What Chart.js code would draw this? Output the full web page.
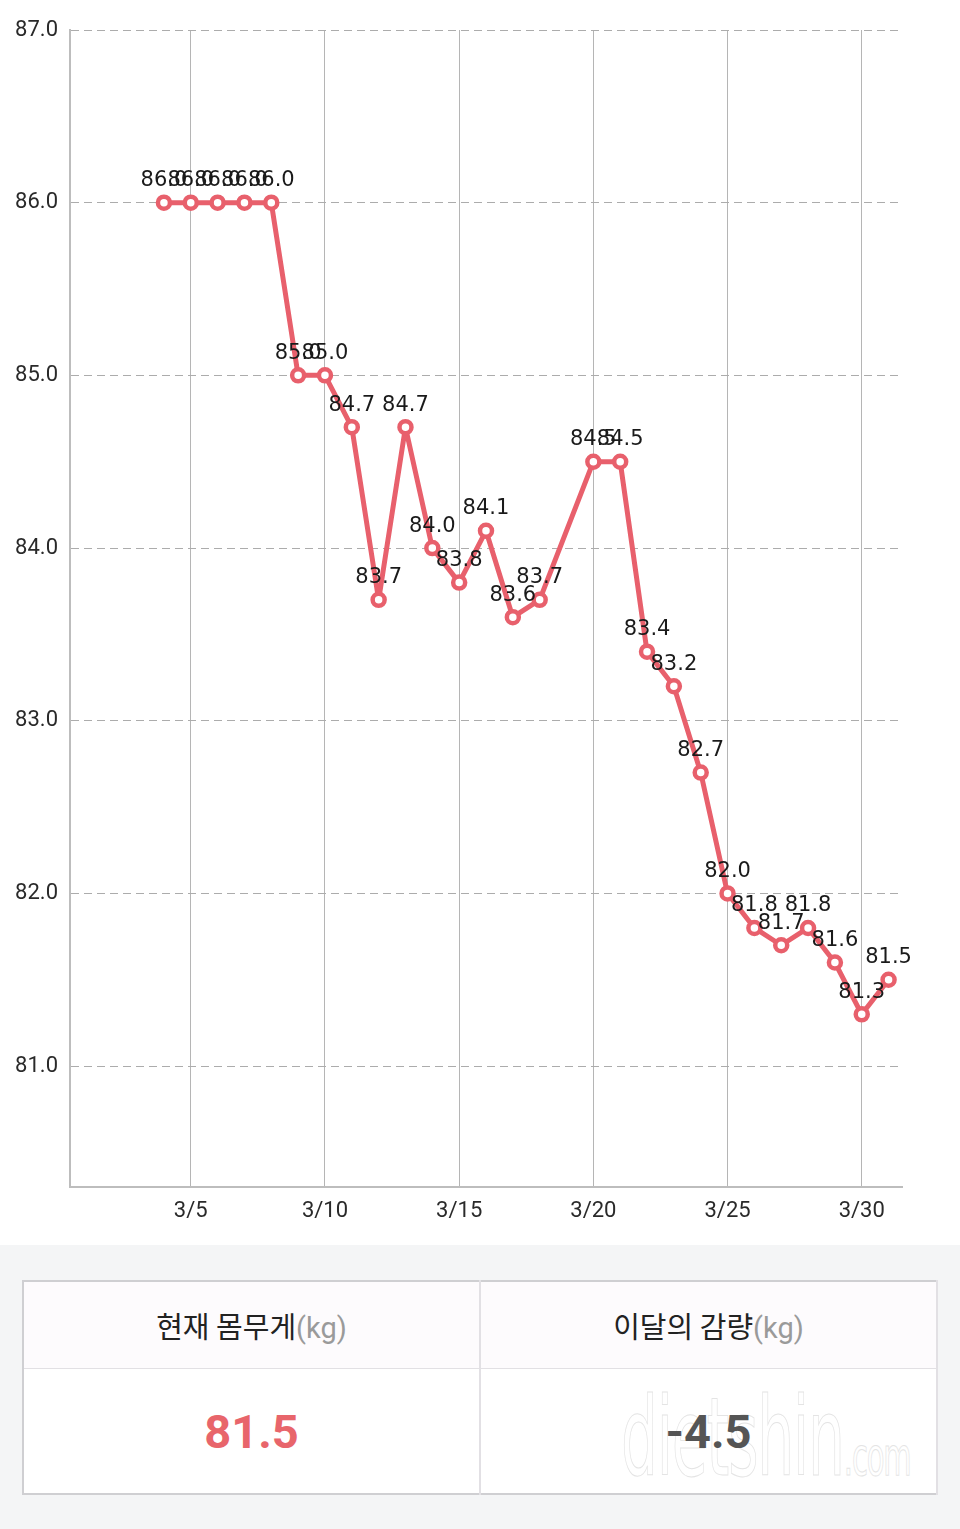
<!DOCTYPE html>
<html>
<head>
<meta charset="utf-8">
<script src="https://cdn.jsdelivr.net/npm/chart.js@4"></script>
<style>
  body { margin: 0; background: #fff; font-family: Roboto, "Noto Sans CJK KR", sans-serif; }
  #chart-wrap { position: relative; width: 960px; height: 1245px; background: #fff; }
  #summary { position: relative; width: 960px; height: 284px; background: #f4f5f6; }
  #summary table {
    position: absolute; left: 22px; top: 35px;
    width: 916px; height: 215px; border-collapse: collapse;
    border: 2px solid #cfcfd2; background: #fff;
  }
  #summary th {
    height: 84px; background: #fdfbfd; font-weight: normal; font-size: 29px; color: #222;
    border-bottom: 1px solid #e2e0e4; border-right: 2px solid #e2e0e4;
    font-family: "Noto Sans CJK KR", Roboto, sans-serif;
  }
  #summary td {
    font-size: 47px; font-weight: bold; text-align: center; border-right: 2px solid #e2e0e4;
    font-family: Roboto, sans-serif; position: relative;
  }
  .unit { color: #9a9a9a; font-family: Roboto, sans-serif; }
  .wm {
    position: absolute; left: 140px; top: 6px; font-family: "DejaVu Sans Condensed", "Liberation Sans Narrow", sans-serif;
    font-size: 108px; font-weight: normal; color: transparent; -webkit-text-stroke: 1px #e4e4e4;
    transform: scaleX(0.6); transform-origin: left top; letter-spacing: -2px; white-space: nowrap;
  }
</style>
</head>
<body>
<div id="chart-wrap"><canvas id="weight-chart"></canvas></div>
<div id="summary">
  <table>
    <tr>
      <th>현재 몸무게<span class="unit">(kg)</span></th>
      <th>이달의 감량<span class="unit">(kg)</span></th>
    </tr>
    <tr>
      <td id="current-weight" style="color:#e8656b"></td>
      <td id="month-loss" style="color:#555"><span class="wm">dietshin<span style="font-size:54px">.com</span></span><span id="loss-text" style="position:relative"></span></td>
    </tr>
  </table>
</div>
<script>
// ------------------ DATA ------------------
const days = [];
for (let d = 1; d <= 31; d++) days.push("3/" + d);

// weight per day of March (null = no record)
const weights = [
  null, null, null, 86.0, 86.0, 86.0, 86.0, 86.0, 85.0, 85.0,
  84.7, 83.7, 84.7, 84.0, 83.8, 84.1, 83.6, 83.7, null, 84.5,
  84.5, 83.4, 83.2, 82.7, 82.0, 81.8, 81.7, 81.8, 81.6, 81.3,
  81.5
];
const yTicks = [81, 82, 83, 84, 85, 86, 87];
const yMin = 80.3, yMax = 87.0;

const currentWeight = 81.5;
const monthLoss = -4.5;

const LINE = "#e8606c";

// ------------------ SUMMARY ------------------
document.getElementById("current-weight").textContent = currentWeight.toFixed(1);
document.getElementById("loss-text").textContent = monthLoss.toFixed(1);

// ------------------ CHART ------------------
const valueLabels = {
  id: "valueLabels",
  afterDatasetsDraw(chart) {
    const ctx = chart.ctx;
    const meta = chart.getDatasetMeta(0);
    ctx.save();
    ctx.font = "21px 'DejaVu Sans'";
    ctx.fillStyle = "#1a1a1a";
    ctx.textAlign = "center";
    ctx.textBaseline = "middle";
    meta.data.forEach((pt, i) => {
      const v = weights[i];
      if (v == null) return;
      ctx.fillText(v.toFixed(1), pt.x, pt.y - 22);
    });
    ctx.restore();
  }
};

const ctx = document.getElementById("weight-chart").getContext("2d");
new Chart(ctx, {
  type: "line",
  data: {
    labels: days,
    datasets: [{
      data: weights,
      borderColor: LINE,
      borderWidth: 5,
      borderJoinStyle: "round",
      borderCapStyle: "round",
      pointBackgroundColor: "#fff",
      pointBorderColor: LINE,
      pointBorderWidth: 4.5,
      pointRadius: 6,
      tension: 0,
      spanGaps: true
    }]
  },
  options: {
    responsive: true,
    maintainAspectRatio: false,
    animation: false,
    layout: { padding: { top: 30, right: 58, left: 0, bottom: 0 } },
    plugins: { legend: { display: false }, tooltip: { enabled: false } },
    scales: {
      x: {
        offset: true,
        grid: {
          offset: false,
          drawTicks: false,
          color: c => ((c.index + 1) % 5 === 0 ? "#b5b5b5" : "rgba(0,0,0,0)"),
          lineWidth: 1
        },
        border: { color: "#bdbdbd", width: 2 },
        ticks: {
          autoSkip: false,
          maxRotation: 0,
          padding: 11,
          color: "#2a2a2a",
          font: { family: "Roboto", size: 22 },
          callback: (v, i) => ((i + 1) % 5 === 0 ? days[i] : "")
        },
        afterFit: s => { s.height = 58; }
      },
      y: {
        min: yMin,
        max: yMax,
        afterBuildTicks: s => { s.ticks = yTicks.map(v => ({ value: v })); },
        grid: { color: "#acacac", drawTicks: false, lineWidth: 1 },
        border: { color: "#bdbdbd", width: 2, dash: [8, 5] },
        ticks: {
          padding: 12,
          color: "#2a2a2a",
          font: { family: "Roboto", size: 22 },
          callback: v => Number(v).toFixed(1)
        },
        afterFit: s => { s.width = 70; }
      }
    }
  },
  plugins: [valueLabels]
});
</script>
</body>
</html>
